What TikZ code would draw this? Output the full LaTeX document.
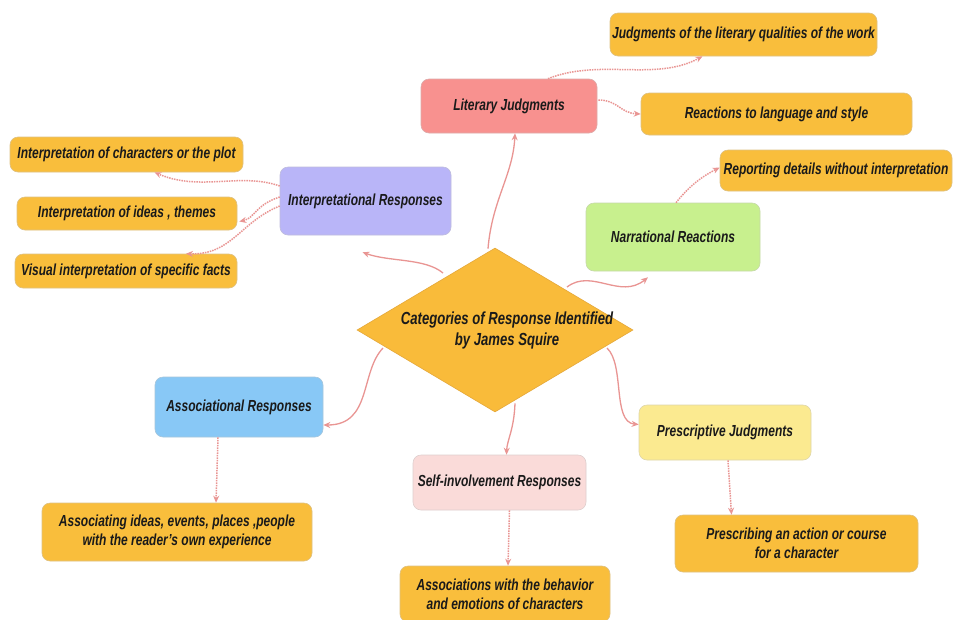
\documentclass[tikz,border=0pt]{standalone}
\usepackage{fontspec}
\setmainfont{Liberation Sans}[FakeStretch=0.75]
\usetikzlibrary{shapes.geometric,arrows.meta,calc}
\definecolor{boxorange}{HTML}{F9BE3C}
\definecolor{edgeorange}{HTML}{E5A83A}
\definecolor{litred}{HTML}{F8918F}
\definecolor{interpblue}{HTML}{B9B5F8}
\definecolor{narrgreen}{HTML}{C8F08E}
\definecolor{assocblue}{HTML}{88C8F6}
\definecolor{selfpink}{HTML}{FADBD9}
\definecolor{prescyellow}{HTML}{FBEA90}
\definecolor{diamondorange}{HTML}{F9BB3A}
\definecolor{linkred}{HTML}{E99593}
\definecolor{inktext}{HTML}{1A1A1A}
\tikzset{
  card/.style={rectangle, rounded corners=8pt, draw=#1!80!black!60, line width=0.6pt,
    fill=#1, align=center, text=inktext,
    font=\fontsize{16}{19}\selectfont\bfseries\itshape, inner sep=2pt},
  leaf/.style={card=boxorange},
  mainlink/.style={draw=linkred, line width=1.3pt, -{Stealth[length=7pt,width=6pt]}},
  sublink/.style={draw=linkred, line width=1.5pt, densely dotted, -{Stealth[length=7pt,width=6pt]}},
}
\begin{document}
\begin{tikzpicture}[x=1pt,y=-1pt]
\useasboundingbox[fill=white] (0,0) rectangle (953,619);
\clip (0,0) rectangle (953,619);

% central diamond
\node[diamond, draw=edgeorange, line width=0.6pt, fill=diamondorange, inner sep=0pt,
  minimum width=276pt, minimum height=164pt] (dia) at (495,330) {};
\node[align=center, text=inktext, font=\fontsize{17.5}{21}\selectfont\bfseries\itshape]
  (diatext) at (507,330) {Categories of Response Identified\\by James Squire};

% category boxes
\node[card=litred, minimum width=176pt, minimum height=54pt] (lit) at (509,106) {Literary Judgments};
\node[card=interpblue, minimum width=171pt, minimum height=68pt] (interp) at (365.5,201) {Interpretational Responses};
\node[card=narrgreen, minimum width=174pt, minimum height=68pt] (narr) at (673,237) {Narrational Reactions};
\node[card=assocblue, minimum width=168pt, minimum height=60pt] (assoc) at (239,407) {Associational Responses};
\node[card=selfpink, minimum width=173pt, minimum height=55pt] (self) at (499.5,482.5) {Self-involvement Responses};
\node[card=prescyellow, minimum width=172pt, minimum height=55pt] (presc) at (725,432.5) {Prescriptive Judgments};

% detail boxes
\node[leaf, minimum width=267pt, minimum height=43pt] (litqual) at (743.5,34.5) {Judgments of the literary qualities of the work};
\node[leaf, minimum width=271pt, minimum height=42pt] (lang) at (776.5,114) {Reactions to language and style};
\node[leaf, minimum width=232pt, minimum height=41pt] (report) at (836,170.5) {Reporting details without interpretation};
\node[leaf, minimum width=233pt, minimum height=35pt] (chars) at (126.5,154.5) {Interpretation of characters or the plot};
\node[leaf, minimum width=220pt, minimum height=33pt] (ideas) at (127,213.5) {Interpretation of ideas , themes};
\node[leaf, minimum width=222pt, minimum height=34pt] (facts) at (126,271) {Visual interpretation of specific facts};
\node[leaf, minimum width=270pt, minimum height=58pt] (experience) at (177,532) {Associating ideas, events, places ,people\\with the reader's own experience};
\node[leaf, minimum width=210pt, minimum height=56pt] (behavior) at (505,594) {Associations with the behavior\\and emotions of characters};
\node[leaf, minimum width=243pt, minimum height=57pt] (prescribe) at (796.5,543.5) {Prescribing an action or course\\for a character};

% links from the diamond to the categories
\draw[mainlink] ($(dia.north)+(-7,1)$) .. controls (492,200) and (513,175) .. ($(lit.south)+(6,0)$);
\draw[mainlink] (443,273) .. controls (425,258) and (390,262) .. ($(interp.south)+(-3,17)$);
\draw[mainlink] (567,287) .. controls (592,268) and (620,300) .. ($(narr.south)+(-25,6)$);
\draw[mainlink] (383,348) .. controls (360,372) and (372,425) .. ($(assoc.east)+(0,18)$);
\draw[mainlink] ($(dia.south)+(20,-9)$) .. controls (514,430) and (507,440) .. ($(self.north)+(7,0)$);
\draw[mainlink] (607,348) .. controls (625,365) and (612,422) .. ($(presc.west)+(0,-8)$);

% links from the categories to their details
\draw[sublink] ($(lit.north)+(39,0)$) .. controls (600,58) and (655,82) .. ($(litqual.south)+(-41,0)$);
\draw[sublink] ($(lit.east)+(1,-6)$) .. controls (618,100) and (620,113) .. (lang.west);
\draw[sublink] ($(narr.north)+(3,0)$) .. controls (690,185) and (703,176) .. ($(report.west)+(0,-3)$);
\draw[sublink] ($(interp.west)+(0,-15)$) .. controls (240,172) and (200,192) .. ($(chars.south)+(28,0)$);
\draw[sublink] ($(interp.west)+(0,-4)$) .. controls (255,205) and (255,218) .. ($(ideas.east)+(2,8)$);
\draw[sublink] ($(interp.west)+(0,5)$) .. controls (240,222) and (232,255) .. ($(facts.north)+(60,0)$);
\draw[sublink] ($(assoc.south)+(-21,0)$) -- ($(experience.north)+(39,0)$);
\draw[sublink] ($(self.south)+(10,0)$) -- ($(behavior.north)+(3,0)$);
\draw[sublink] ($(presc.south)+(3,0)$) -- ($(prescribe.north)+(-65,0)$);
\end{tikzpicture}
\end{document}
